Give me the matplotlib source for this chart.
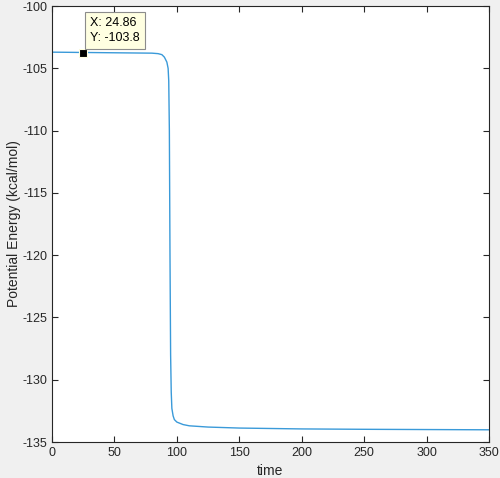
import matplotlib
matplotlib.use("Agg")
import matplotlib.pyplot as plt

# values
time = [0, 20, 40, 60, 80, 85, 88, 90, 92, 93, 93.5, 94, 94.5, 95, 95.5, 96, 97, 98,
        100, 105, 110, 125, 150, 200, 250, 300, 350]
energy = [-103.7, -103.72, -103.74, -103.76, -103.78, -103.82, -103.9, -104.1, -104.5,
          -105.0, -106.0, -110.0, -120.0, -128.0, -131.0, -132.3, -132.9, -133.2,
          -133.4, -133.6, -133.7, -133.8, -133.88, -133.95, -133.98, -134.0, -134.02]
tip_x = 24.86
tip_y = -103.8

plt.rcParams['font.family'] = ['Liberation Sans', 'DejaVu Sans']
plt.rcParams['axes.unicode_minus'] = False
fig = plt.figure(figsize=(5, 4.78), dpi=100, facecolor='#f0f0f0')
ax = fig.add_axes([0.104, 0.0753, 0.874, 0.912])
ax.plot(time, energy, color='#3a9ad9', lw=1)
ax.set_xlim(0, 350)
ax.set_ylim(-135, -100)
ax.set_xticks(range(0, 351, 50))
ax.set_yticks(range(-135, -99, 5))
ax.tick_params(direction='in', top=True, right=True, labelsize=9, colors='#262626', length=4)
for s in ax.spines.values():
    s.set_color('#262626')
    s.set_linewidth(0.8)
ax.set_xlabel('time', fontsize=10, color='#262626', labelpad=4)
ax.set_ylabel('Potential Energy (kcal/mol)', fontsize=10, color='#262626', labelpad=0.5)

# data tip
ax.plot([tip_x], [tip_y], 's', color='black', ms=6, mec='#ffffe0', mew=0.8)
ax.annotate('X: %.2f\nY: %.1f' % (tip_x, tip_y), xy=(tip_x, tip_y), xytext=(30.5, -103.05),
            fontsize=9, color='black', linespacing=1.35, va='bottom', ha='left',
            bbox=dict(boxstyle='square,pad=0.4', fc='#ffffe1', ec='#8c8c8c', lw=0.8))

fig.savefig('out.png', dpi=100, facecolor=fig.get_facecolor())
